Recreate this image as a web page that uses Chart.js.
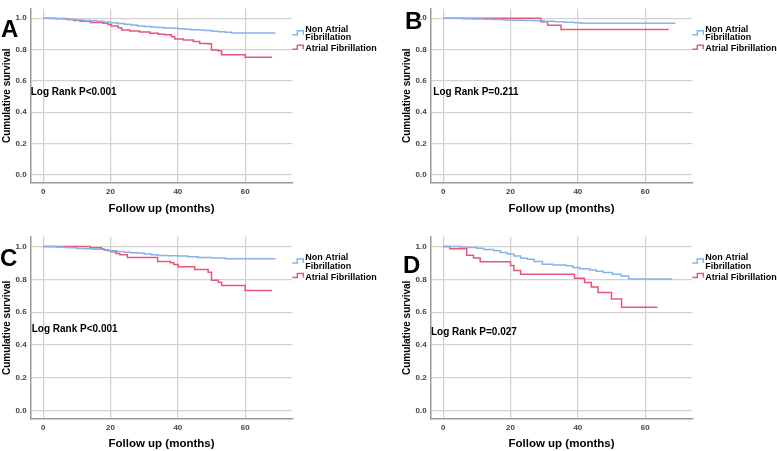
<!DOCTYPE html>
<html><head><meta charset="utf-8">
<script src="https://cdn.jsdelivr.net/npm/chart.js@4.4.1/dist/chart.umd.min.js"></script>
<style>
html,body{margin:0;padding:0;background:#fff;}
#wrap{position:relative;width:777px;height:451px;overflow:hidden;background:#fff;}
.panel{position:absolute;}
canvas{display:block;}
</style></head><body>
<div id="wrap">
<div class="panel" style="left:0;top:0;width:390px;height:225px"><canvas id="cA" width="390" height="225"></canvas></div>
<div class="panel" style="left:390px;top:0;width:387px;height:225px"><canvas id="cB" width="387" height="225"></canvas></div>
<div class="panel" style="left:0;top:225px;width:390px;height:226px"><canvas id="cC" width="390" height="226"></canvas></div>
<div class="panel" style="left:390px;top:225px;width:387px;height:226px"><canvas id="cD" width="387" height="226"></canvas></div>
</div>
<script>
// ---- Data (months, cumulative survival) ----
const xTicks = [0, 20, 40, 60];
const yTicks = [0, 0.2, 0.4, 0.6, 0.8, 1.0];
const seriesNames = ["Non Atrial Fibrillation", "Atrial Fibrillation"];
const legendLines = [["Non Atrial", "Fibrillation"], ["Atrial Fibrillation"]];

const panelLetters = ["A", "B", "C", "D"];
const logRankTexts = ["Log Rank P<0.001", "Log Rank P=0.211", "Log Rank P<0.001", "Log Rank P=0.027"];

const tA_non = [0, 2, 4, 6, 8, 10, 12, 14, 16, 18, 20, 22, 24, 26, 28, 30, 32, 34, 36, 38, 40, 42, 44, 46, 48, 50, 52, 54, 56, 69];
const sA_non = [1, 0.999, 0.997, 0.995, 0.992, 0.989, 0.986, 0.983, 0.980, 0.976, 0.971, 0.966, 0.961, 0.956, 0.951, 0.947, 0.944, 0.941, 0.938, 0.936, 0.933, 0.930, 0.927, 0.924, 0.921, 0.917, 0.913, 0.910, 0.906, 0.906];
const tA_af = [0, 2, 7, 9, 11, 14, 17.8, 19.3, 20.3, 22.3, 23.3, 25.7, 28.7, 31.7, 34.2, 36.1, 38.1, 39.1, 41.6, 44.6, 46.5, 49, 50, 52, 53, 60, 68];
const sA_af = [1, 0.998, 0.992, 0.986, 0.980, 0.973, 0.967, 0.959, 0.951, 0.939, 0.925, 0.918, 0.912, 0.904, 0.898, 0.894, 0.882, 0.867, 0.861, 0.851, 0.839, 0.837, 0.797, 0.792, 0.767, 0.751, 0.751];

const tB_non = [0, 3, 6, 9, 12, 15, 18, 21, 24, 27, 30, 33, 36, 39, 41, 69];
const sB_non = [1, 0.999, 0.997, 0.995, 0.993, 0.991, 0.989, 0.987, 0.986, 0.984, 0.981, 0.977, 0.974, 0.971, 0.967, 0.967];
const tB_af = [0, 29, 31, 35, 67];
const sB_af = [1, 0.978, 0.955, 0.928, 0.928];

const tC_non = [0, 4, 6, 8, 10, 12, 15, 18, 20, 22, 24, 26, 28, 30, 32, 34, 37, 40, 43, 46, 50, 54, 69];
const sC_non = [1, 0.998, 0.995, 0.992, 0.988, 0.986, 0.984, 0.978, 0.974, 0.970, 0.966, 0.963, 0.960, 0.955, 0.950, 0.946, 0.944, 0.942, 0.938, 0.933, 0.930, 0.925, 0.925];
const tC_af = [0, 14, 17.3, 18, 19.3, 20.3, 21.6, 22.8, 25, 34, 37.8, 38.8, 40.1, 45, 49, 50, 52, 53, 60, 68];
const sC_af = [1, 0.993, 0.987, 0.980, 0.974, 0.968, 0.958, 0.950, 0.933, 0.909, 0.901, 0.891, 0.877, 0.861, 0.844, 0.795, 0.783, 0.763, 0.733, 0.733];

const tD_non = [0, 5, 7, 10, 12, 15, 17, 19, 21, 23, 25, 27, 29.5, 32.5, 36.5, 38.5, 40.5, 43.5, 45.5, 47.5, 50.3, 52.8, 55.1, 68];
const sD_non = [1, 0.997, 0.994, 0.990, 0.982, 0.974, 0.964, 0.954, 0.943, 0.929, 0.923, 0.909, 0.893, 0.887, 0.883, 0.873, 0.865, 0.857, 0.850, 0.842, 0.832, 0.820, 0.802, 0.802];
const tD_af = [0, 2, 7, 9, 11, 20, 21, 23, 39, 42, 44, 46, 50, 53, 63.7];
const sD_af = [1, 0.986, 0.947, 0.931, 0.907, 0.884, 0.854, 0.831, 0.807, 0.781, 0.754, 0.720, 0.680, 0.630, 0.630];

// ---- Styling ----
const BLUE = '#86b3ee';
const RED = '#e8577a';
const FONT = "'Liberation Sans', Arial, sans-serif";

function pts(t, s) { return t.map((v, i) => ({ x: v, y: s[i] })); }

const overlay = {
  id: 'overlay',
  afterDraw(chart, args, o) {
    const ctx = chart.ctx;
    const ys = chart.scales.y;
    const ref = ys.getPixelForValue(1.0);
    const r = chart.chartArea.right;
    ctx.save();
    // legend
    const cols = [BLUE, RED];
    const lowY = [ref + 16.5, ref + 31];
    ctx.lineWidth = 1.4;
    for (let k = 0; k < 2; k++) {
      ctx.strokeStyle = cols[k];
      ctx.beginPath();
      ctx.moveTo(r, lowY[k]);
      ctx.lineTo(r + 5, lowY[k]);
      ctx.lineTo(r + 5, lowY[k] - 4);
      ctx.lineTo(r + 11, lowY[k] - 4);
      ctx.lineTo(r + 11, lowY[k]);
      ctx.stroke();
    }
    ctx.fillStyle = '#000';
    ctx.font = 'bold 9px ' + FONT;
    ctx.textAlign = 'left';
    ctx.textBaseline = 'middle';
    ctx.fillText(legendLines[0][0], r + 13, ref + 11);
    ctx.fillText(legendLines[0][1], r + 13, ref + 19.5);
    ctx.fillText(legendLines[1][0], r + 13, ref + 30.8);
    // panel letter
    ctx.font = 'bold 24px ' + FONT;
    ctx.fillText(o.letter, o.lx, o.ly);
    // log rank
    ctx.font = 'bold 10px ' + FONT;
    ctx.fillText(o.ptext, o.px, o.py);
    ctx.restore();
  }
};

function makeChart(id, tn, sn, ta, sa, L) {
  const ctx = document.getElementById(id);
  return new Chart(ctx, {
    type: 'line',
    data: {
      datasets: [
        { label: seriesNames[0], data: pts(tn, sn), borderColor: BLUE, borderWidth: 1.5, pointRadius: 0, stepped: 'before', fill: false },
        { label: seriesNames[1], data: pts(ta, sa), borderColor: RED, borderWidth: 1.5, pointRadius: 0, stepped: 'before', fill: false }
      ]
    },
    options: {
      responsive: false,
      devicePixelRatio: 1,
      animation: false,
      events: [],
      layout: { padding: { left: L.padLeft, top: L.padTop, right: L.padRight, bottom: 0 } },
      plugins: {
        legend: { display: false },
        tooltip: { enabled: false },
        overlay: L.ov
      },
      scales: {
        x: {
          type: 'linear', min: -3.7, max: 74,
          afterBuildTicks: (s) => { s.ticks = xTicks.map(v => ({ value: v })); },
          afterFit: (s) => { s.height = L.xHeight; },
          grid: { color: '#d2d2d2', lineWidth: 1.3, drawTicks: false },
          border: { display: true, color: '#9a9a9a', width: 1.5 },
          ticks: { autoSkip: false, maxRotation: 0, padding: 4, color: '#444', font: { family: FONT, size: 8, weight: 'bold' }, callback: v => String(v) },
          title: { display: true, text: 'Follow up (months)', color: '#000', font: { family: FONT, size: 11.5, weight: 'bold' }, padding: { top: 0, bottom: L.xTitlePad } }
        },
        y: {
          type: 'linear', min: -0.05, max: 1.06,
          afterBuildTicks: (s) => { s.ticks = yTicks.map(v => ({ value: v })); },
          afterFit: (s) => { s.width = 30.7; },
          grid: { color: '#d2d2d2', lineWidth: 1.3, drawTicks: false },
          border: { display: true, color: '#9a9a9a', width: 1.5 },
          ticks: { autoSkip: false, padding: 4, color: '#444', font: { family: FONT, size: 8, weight: 'bold' }, callback: v => Number(v).toFixed(1) },
          title: { display: true, text: 'Cumulative survival', color: '#000', font: { family: FONT, size: 10, weight: 'bold' }, padding: { top: 1, bottom: 0 } }
        }
      }
    },
    plugins: [overlay]
  });
}

makeChart('cA', tA_non, sA_non, tA_af, sA_af, { padLeft: 0, padTop: 2, padRight: 97.7, xHeight: 42.3, xTitlePad: 9,
  ov: { letter: panelLetters[0], lx: 1, ly: 30, ptext: logRankTexts[0], px: 30.7, py: 92.7 } });
makeChart('cB', tB_non, sB_non, tB_af, sB_af, { padLeft: 10, padTop: 2, padRight: 84.7, xHeight: 42.3, xTitlePad: 9,
  ov: { letter: panelLetters[1], lx: 15, ly: 22, ptext: logRankTexts[1], px: 43.3, py: 92.3 } });
makeChart('cC', tC_non, sC_non, tC_af, sC_af, { padLeft: 0, padTop: 11.7, padRight: 97.7, xHeight: 32, xTitlePad: 0,
  ov: { letter: panelLetters[2], lx: 0, ly: 34, ptext: logRankTexts[2], px: 31.7, py: 104 } });
makeChart('cD', tD_non, sD_non, tD_af, sD_af, { padLeft: 10, padTop: 11.7, padRight: 84.7, xHeight: 32, xTitlePad: 0,
  ov: { letter: panelLetters[3], lx: 13, ly: 41, ptext: logRankTexts[3], px: 41, py: 107.3 } });
</script>
</body></html>
